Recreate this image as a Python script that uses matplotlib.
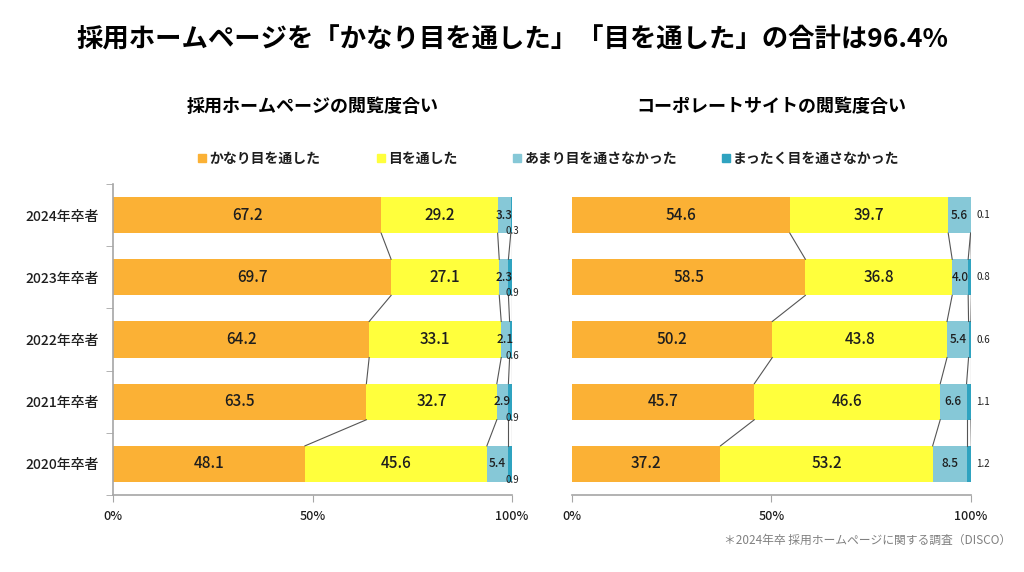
import matplotlib

matplotlib.use("Agg")
import matplotlib.pyplot as plt
import numpy as np

plt.rcParams["font.family"] = ["Noto Sans CJK JP", "DejaVu Sans"]

years = ["2024年卒者", "2023年卒者", "2022年卒者", "2021年卒者", "2020年卒者"]
series_names = ["かなり目を通した", "目を通した", "あまり目を通さなかった", "まったく目を通さなかった"]
colors = ["#FBB135", "#FFFF3C", "#86C8D7", "#2FA3C0"]

# recruitment homepage
hp_much = [67.2, 69.7, 64.2, 63.5, 48.1]
hp_read = [29.2, 27.1, 33.1, 32.7, 45.6]
hp_little = [3.3, 2.3, 2.1, 2.9, 5.4]
hp_none = [0.3, 0.9, 0.6, 0.9, 0.9]

# corporate site
corp_much = [54.6, 58.5, 50.2, 45.7, 37.2]
corp_read = [39.7, 36.8, 43.8, 46.6, 53.2]
corp_little = [5.6, 4.0, 5.4, 6.6, 8.5]
corp_none = [0.1, 0.8, 0.6, 1.1, 1.2]

xticks = [0, 50, 100]
xtick_labels = ["0%", "50%", "100%"]

BAR_H = 0.58
SPINE = "#A6A6A6"
TXT = "#1e1e1e"


def draw_panel(ax, data, title, left_spine, small_below):
    y = np.arange(len(years))
    cum = np.zeros(len(years))
    ends = []
    for k, vals in enumerate(data):
        vals = np.array(vals)
        ax.barh(y, vals, left=cum, height=BAR_H, color=colors[k], zorder=2)
        centers = cum + vals / 2
        for i, v in enumerate(vals):
            if k < 2:
                ax.text(centers[i], y[i], f"{v:.1f}", ha="center", va="center",
                        fontsize=11, fontweight="medium", color=TXT, zorder=4)
            elif k == 2:
                ax.text(centers[i], y[i], f"{v:.1f}", ha="center", va="center",
                        fontsize=8.5, fontweight="medium", color=TXT, zorder=4)
            else:
                if small_below:
                    ax.text(cum[i] + vals[i] + 0.2, y[i] + 0.26, f"{v:.1f}", ha="center",
                            va="center", fontsize=7, color=TXT, zorder=4)
                else:
                    ax.text(cum[i] + vals[i] + 3.0, y[i], f"{v:.1f}", ha="center",
                            va="center", fontsize=7, color=TXT, zorder=4)
        cum = cum + vals
        ends.append(cum.copy())

    # series lines between bars
    for e in ends:
        for i in range(len(years) - 1):
            ax.plot([e[i], e[i + 1]], [y[i] + BAR_H / 2, y[i + 1] - BAR_H / 2],
                    color="#555555", lw=0.8, zorder=3)

    ax.set_xlim(0, 100)
    ax.set_ylim(len(years) - 0.5, -0.5)
    ax.set_xticks(xticks)
    ax.set_xticklabels(xtick_labels, fontsize=9, fontweight="medium", color=TXT)
    ax.tick_params(axis="x", length=5, color=SPINE, pad=6)
    for s in ["top", "right"]:
        ax.spines[s].set_visible(False)
    ax.spines["bottom"].set_color(SPINE)
    ax.spines["bottom"].set_linewidth(1.2)
    if left_spine:
        ax.spines["left"].set_color(SPINE)
        ax.spines["left"].set_linewidth(1.2)
        ax.set_yticks(np.arange(len(years) + 1) - 0.5, minor=True)
        ax.set_yticks(y)
        ax.set_yticklabels(years, fontsize=10, fontweight="medium", color=TXT)
        ax.tick_params(axis="y", which="major", length=0, pad=10)
        ax.tick_params(axis="y", which="minor", length=5, color=SPINE)
    else:
        ax.spines["left"].set_visible(False)
        ax.set_yticks([])
    ax.text(0.5, 1.25, title, transform=ax.transAxes, ha="center", va="center",
            fontsize=13, fontweight="bold")


fig = plt.figure(figsize=(10.24, 5.72), dpi=100)
ax1 = fig.add_axes([0.1104, 0.1346, 0.3896, 0.5437])
ax2 = fig.add_axes([0.5586, 0.1346, 0.3896, 0.5437])

draw_panel(ax1, [hp_much, hp_read, hp_little, hp_none], "採用ホームページの閲覧度合い", True, True)
draw_panel(ax2, [corp_much, corp_read, corp_little, corp_none], "コーポレートサイトの閲覧度合い", False, False)

fig.text(0.5, 0.93, "採用ホームページを「かなり目を通した」「目を通した」の合計は96.4%",
         ha="center", va="center", fontsize=19, fontweight="bold")

# legend row
legend_x = [0.193, 0.368, 0.501, 0.705]
for lx, name, c in zip(legend_x, series_names, colors):
    fig.patches.append(plt.Rectangle((lx, 0.716), 0.008, 0.014, color=c,
                                     transform=fig.transFigure, figure=fig))
    fig.text(lx + 0.011, 0.723, name, ha="left", va="center", fontsize=10,
             fontweight="bold", color=TXT)

fig.text(0.987, 0.055, "＊2024年卒 採用ホームページに関する調査（DISCO）", ha="right",
         va="center", fontsize=8.5, color="#808080")

fig.savefig("out.png", dpi=100)
plt.close(fig)
